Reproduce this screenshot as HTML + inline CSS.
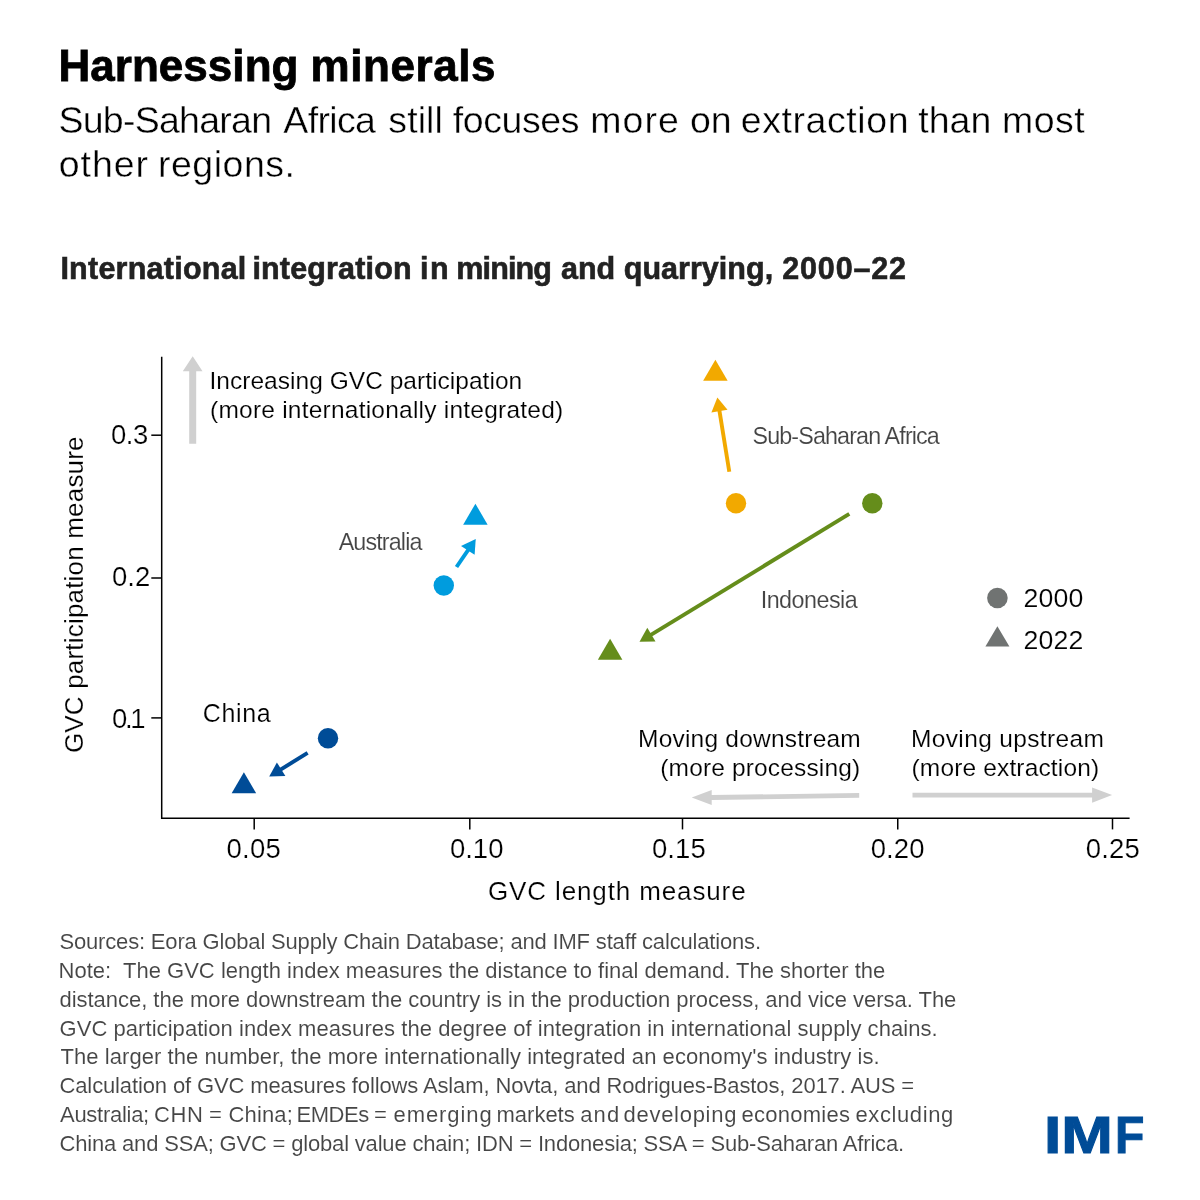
<!DOCTYPE html>
<html lang="en">
<head>
<meta charset="utf-8">
<title>Harnessing minerals</title>
<style>
html,body{margin:0;padding:0;background:#fff;}
body{width:1200px;height:1200px;overflow:hidden;position:relative;}
svg{position:absolute;left:0;top:0;display:block;}
text{font-family:"Liberation Sans",sans-serif;white-space:pre;}
</style>
</head>
<body>
<svg width="1200" height="1200" viewBox="0 0 1200 1200">
<rect x="0" y="0" width="1200" height="1200" fill="#ffffff"/>
<g stroke="#000" stroke-width="1.5" fill="none">
<path d="M161.7 356.7V818.2H1129.6"/>
<path d="M151.3 435.2H161.7"/>
<path d="M151.3 578H161.7"/>
<path d="M151.3 717.9H161.7"/>
<path d="M254.2 818.2V829.4"/>
<path d="M469.8 818.2V829.4"/>
<path d="M682.5 818.2V829.4"/>
<path d="M897.75 818.2V829.4"/>
<path d="M1112.5 818.2V829.4"/>
</g>
<g fill="#d0d0d0" stroke="none">
<path d="M189.2 443.8V371.2H182.8L192.7 356.3L202.5 371.2H196.2V443.8Z"/>
<path d="M859.2 793L711.7 795.1V790L691.7 797.5L711.7 805V799.9L859.2 797.8Z"/>
<path d="M912.5 792.7H1092.1V787.5L1112.1 795L1092.1 802.7V797.4H912.5Z"/>
</g>
<g fill="#004c97" stroke="#004c97"><circle cx="328" cy="738.3" r="10.2" stroke="none"/><path stroke="none" d="M243.9 772.2L256.15 793.3H231.65Z"/><path d="M307.6 752.9L278.16 771.09" stroke-width="3.9" fill="none"/><path d="M269.2 776.6L276.9 762.6L285.4 775.9Z" stroke="none"/></g>
<g fill="#009cde" stroke="#009cde"><circle cx="443.8" cy="585.5" r="10.2" stroke="none"/><path stroke="none" d="M475.4 503.7L487.65 524.7H463.15Z"/><path d="M456.5 567L469.79 547.56" stroke-width="3.9" fill="none"/><path d="M475.75 538.9L461 546.1L474.6 554.8Z" stroke="none"/></g>
<g fill="#f2a900" stroke="#f2a900"><circle cx="736" cy="503.3" r="10.2" stroke="none"/><path stroke="none" d="M715.4 359.8L727.65 380.8H703.15Z"/><path d="M729.3 471.8L718.93 407.68" stroke-width="3.9" fill="none"/><path d="M717.35 397.5L711.4 412.5L727.5 409.65Z" stroke="none"/></g>
<g fill="#658d1b" stroke="#658d1b"><circle cx="872.3" cy="503.3" r="10.2" stroke="none"/><path stroke="none" d="M610.1 638.8L622.35 659.8H597.85Z"/><path d="M849.3 513.9L648.42 636.41" stroke-width="3.9" fill="none"/><path d="M639.5 641.7L647.3 627.8L655.5 641.5Z" stroke="none"/></g>
<g fill="#707372"><circle cx="997.4" cy="598" r="10.3"/><path d="M997.4 626.25L1009.40 646.6H985.40Z"/></g>
<text y="81" font-size="44" font-weight="700" fill="#000" stroke="#000" stroke-width="0.8"><tspan x="58.40" letter-spacing="0.044">Harnessing</tspan> <tspan x="310.50" letter-spacing="0.586">minerals</tspan></text>
<text y="133" font-size="37.5" font-weight="400" fill="#000" stroke="#fff" stroke-width="0.41"><tspan x="58.50" letter-spacing="-0.750">Sub-Saharan</tspan> <tspan x="283.30" letter-spacing="-0.660">Africa</tspan> <tspan x="388.30" letter-spacing="0.100">still</tspan> <tspan x="452.70" letter-spacing="-0.400">focuses</tspan> <tspan x="590.30" letter-spacing="1.000">more</tspan> <tspan x="690.00" letter-spacing="0.000">on</tspan> <tspan x="740.70" letter-spacing="0.589">extraction</tspan> <tspan x="918.30" letter-spacing="0.000">than</tspan> <tspan x="1002.00" letter-spacing="0.500">most</tspan></text>
<text y="176.5" font-size="37.5" font-weight="400" fill="#000" stroke="#fff" stroke-width="0.41"><tspan x="58.80" letter-spacing="0.925">other</tspan> <tspan x="158.00" letter-spacing="0.500">regions.</tspan></text>
<text y="279.2" font-size="30.5" font-weight="700" fill="#222" stroke="#222" stroke-width="0.6"><tspan x="60.40" letter-spacing="0.242">International</tspan> <tspan x="252.40" letter-spacing="0.160">integration</tspan> <tspan x="420.00" letter-spacing="1.500">in</tspan> <tspan x="456.30" letter-spacing="-0.860">mining</tspan> <tspan x="561.00" letter-spacing="0.000">and</tspan> <tspan x="623.80" letter-spacing="0.022">quarrying,</tspan> <tspan x="782.20" letter-spacing="0.850">2000–22</tspan></text>
<text y="1121.9" font-size="22" font-weight="400" fill="#454545" stroke="#fff" stroke-width="0.10"><tspan x="60.00" letter-spacing="-0.278">Australia;</tspan> <tspan x="154.00" letter-spacing="0.625">CHN</tspan> <tspan x="209.00" letter-spacing="0.000">=</tspan> <tspan x="228.50" letter-spacing="0.150">China;</tspan> <tspan x="296.50" letter-spacing="-0.438">EMDEs</tspan> <tspan x="374.00" letter-spacing="0.000">=</tspan> <tspan x="393.50" letter-spacing="0.929">emerging</tspan> <tspan x="496.50" letter-spacing="0.000">markets</tspan> <tspan x="580.25" letter-spacing="1.125">and</tspan> <tspan x="623.50" letter-spacing="0.722">developing</tspan> <tspan x="741.50" letter-spacing="0.250">economies</tspan> <tspan x="855.50" letter-spacing="0.600">excluding</tspan></text>
<text x="209.50" y="388.8" font-size="24.5" font-weight="400" fill="#000" letter-spacing="0.030" stroke="#fff" stroke-width="0.15" xml:space="preserve">Increasing GVC participation</text>
<text x="210.00" y="418" font-size="24.5" font-weight="400" fill="#000" letter-spacing="0.228" stroke="#fff" stroke-width="0.15" xml:space="preserve">(more internationally integrated)</text>
<text x="111.00" y="444.3" font-size="27.5" font-weight="400" fill="#000" letter-spacing="-0.500" stroke="#fff" stroke-width="0.21" xml:space="preserve">0.3</text>
<text x="112.00" y="585.7" font-size="27.5" font-weight="400" fill="#000" letter-spacing="0.000" stroke="#fff" stroke-width="0.21" xml:space="preserve">0.2</text>
<text x="112.00" y="727.5" font-size="27.5" font-weight="400" fill="#000" letter-spacing="-2.350" stroke="#fff" stroke-width="0.21" xml:space="preserve">0.1</text>
<text x="226.50" y="857.7" font-size="27.5" font-weight="400" fill="#000" letter-spacing="0.233" stroke="#fff" stroke-width="0.21" xml:space="preserve">0.05</text>
<text x="450.00" y="857.7" font-size="27.5" font-weight="400" fill="#000" letter-spacing="-0.033" stroke="#fff" stroke-width="0.21" xml:space="preserve">0.10</text>
<text x="651.90" y="857.7" font-size="27.5" font-weight="400" fill="#000" letter-spacing="0.100" stroke="#fff" stroke-width="0.21" xml:space="preserve">0.15</text>
<text x="870.70" y="857.7" font-size="27.5" font-weight="400" fill="#000" letter-spacing="0.100" stroke="#fff" stroke-width="0.21" xml:space="preserve">0.20</text>
<text x="1085.70" y="857.7" font-size="27.5" font-weight="400" fill="#000" letter-spacing="0.200" stroke="#fff" stroke-width="0.21" xml:space="preserve">0.25</text>
<text x="488.00" y="900.3" font-size="26" font-weight="400" fill="#000" letter-spacing="0.871" stroke="#fff" stroke-width="0.18" xml:space="preserve">GVC length measure</text>
<text x="338.70" y="550" font-size="23.3" font-weight="400" fill="#444" letter-spacing="-0.862" stroke="#fff" stroke-width="0.13" xml:space="preserve">Australia</text>
<text x="752.50" y="444.2" font-size="23.3" font-weight="400" fill="#444" letter-spacing="-0.865" stroke="#fff" stroke-width="0.13" xml:space="preserve">Sub-Saharan Africa</text>
<text x="760.70" y="608.2" font-size="23.3" font-weight="400" fill="#444" letter-spacing="-0.500" stroke="#fff" stroke-width="0.13" xml:space="preserve">Indonesia</text>
<text x="202.70" y="721.7" font-size="25" font-weight="400" fill="#000" letter-spacing="0.650" stroke="#fff" stroke-width="0.16" xml:space="preserve">China</text>
<text x="1023.40" y="607.1" font-size="26.7" font-weight="400" fill="#000" letter-spacing="0.167" stroke="#fff" stroke-width="0.19" xml:space="preserve">2000</text>
<text x="1023.40" y="648.5" font-size="26.7" font-weight="400" fill="#000" letter-spacing="0.167" stroke="#fff" stroke-width="0.19" xml:space="preserve">2022</text>
<text x="638.00" y="746.75" font-size="24.5" font-weight="400" fill="#000" letter-spacing="0.219" stroke="#fff" stroke-width="0.15" xml:space="preserve">Moving downstream</text>
<text x="660.25" y="776.25" font-size="24.5" font-weight="400" fill="#000" letter-spacing="0.156" stroke="#fff" stroke-width="0.15" xml:space="preserve">(more processing)</text>
<text x="911.00" y="746.75" font-size="24.5" font-weight="400" fill="#000" letter-spacing="0.357" stroke="#fff" stroke-width="0.15" xml:space="preserve">Moving upstream</text>
<text x="911.50" y="776.25" font-size="24.5" font-weight="400" fill="#000" letter-spacing="0.156" stroke="#fff" stroke-width="0.15" xml:space="preserve">(more extraction)</text>
<text x="59.50" y="949.4" font-size="22" font-weight="400" fill="#454545" letter-spacing="-0.175" stroke="#fff" stroke-width="0.10" xml:space="preserve">Sources: Eora Global Supply Chain Database; and IMF staff calculations.</text>
<text x="58.50" y="978.15" font-size="22" font-weight="400" fill="#454545" letter-spacing="0.012" stroke="#fff" stroke-width="0.10" xml:space="preserve">Note:  The GVC length index measures the distance to final demand. The shorter the</text>
<text x="59.50" y="1006.9" font-size="22" font-weight="400" fill="#454545" letter-spacing="-0.031" stroke="#fff" stroke-width="0.10" xml:space="preserve">distance, the more downstream the country is in the production process, and vice versa. The</text>
<text x="59.50" y="1035.65" font-size="22" font-weight="400" fill="#454545" letter-spacing="0.056" stroke="#fff" stroke-width="0.10" xml:space="preserve">GVC participation index measures the degree of integration in international supply chains.</text>
<text x="60.50" y="1064.4" font-size="22" font-weight="400" fill="#454545" letter-spacing="0.066" stroke="#fff" stroke-width="0.10" xml:space="preserve">The larger the number, the more internationally integrated an economy's industry is.</text>
<text x="59.50" y="1093.15" font-size="22" font-weight="400" fill="#454545" letter-spacing="-0.128" stroke="#fff" stroke-width="0.10" xml:space="preserve">Calculation of GVC measures follows Aslam, Novta, and Rodrigues-Bastos, 2017. AUS =</text>
<text x="59.50" y="1150.65" font-size="22" font-weight="400" fill="#454545" letter-spacing="-0.177" stroke="#fff" stroke-width="0.10" xml:space="preserve">China and SSA; GVC = global value chain; IDN = Indonesia; SSA = Sub-Saharan Africa.</text>
<text transform="translate(1044.09 1153.4) scale(1.2188 1)" font-size="51.2" font-weight="700" fill="#004c97" stroke="#004c97" stroke-width="1.0">I</text>
<text transform="translate(1061.37 1153.4) scale(1.2095 1)" font-size="51.2" font-weight="700" fill="#004c97" stroke="#004c97" stroke-width="1.0">M</text>
<text transform="translate(1114.93 1153.4) scale(0.9389 1)" font-size="51.2" font-weight="700" fill="#004c97" stroke="#004c97" stroke-width="1.0">F</text>
<text transform="translate(83.2 753.10) rotate(-90)" x="0" y="0" font-size="26" font-weight="400" fill="#000" stroke="#fff" stroke-width="0.18" letter-spacing="0.188">GVC participation measure</text>
</svg>
</body>
</html>
